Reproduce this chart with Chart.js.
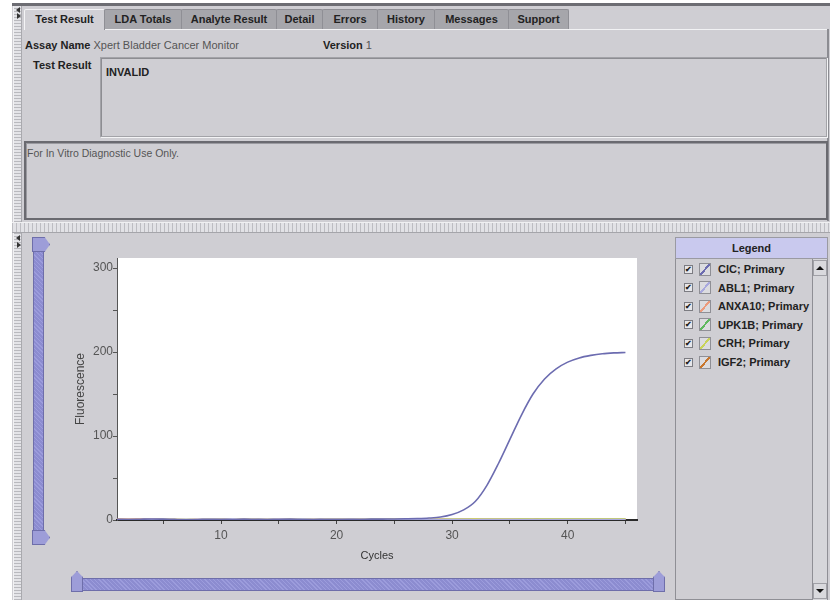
<!DOCTYPE html>
<html>
<head>
<meta charset="utf-8">
<title>Xpert Bladder Cancer Monitor - Test Result</title>
<script src="https://cdn.jsdelivr.net/npm/chart.js@4.4.1/dist/chart.umd.min.js"></script>
<style>
  html, body { margin: 0; padding: 0; width: 832px; height: 600px; overflow: hidden; background: #fff;
    font-family: Arial, "Liberation Sans", sans-serif; }
  .abs { position: absolute; box-sizing: border-box; }
  .win { left: 12px; top: 3px; width: 818px; height: 597px; background: #cfced3; }
  .topline { left: 12px; top: 3px; width: 818px; height: 3px; background: #6d6d73; }
  .vsplit { width: 9px; background: repeating-linear-gradient(0deg, #b9b9be 0 1px, #e4e4e8 1px 3px);
    border-left: 1px solid #f2f2f4; border-right: 1px solid #a9a9ae; }
  .hsplit { left: 12px; top: 222px; width: 818px; height: 11px;
    background: repeating-linear-gradient(90deg, #bdbdc2 0 1px, #e2e2e6 1px 4px);
    border-top: 1px solid #f0f0f2; border-bottom: 1px solid #a5a5aa; }
  .arr { width: 0; height: 0; border-top: 3px solid transparent; border-bottom: 3px solid transparent; }
  .arr.l { border-right: 4px solid #333; }
  .arr.r { border-left: 4px solid #333; }

  .tab { top: 9px; height: 20px; background: #a6a6ab; border: 1px solid #8f8f95; border-bottom: none;
    border-radius: 2px 2px 0 0; font: bold 11px Arial, sans-serif; color: #222; text-align: center; line-height: 19px; }
  .tab.sel { background: #d1d0d5; height: 21px; border-color: #f4f4f6 #8f8f95 transparent #f4f4f6; }
  .tabline { left: 104px; top: 29px; width: 724px; height: 1px; background: #f2f2f4; }
  .pane-r { left: 827px; top: 29px; width: 2px; height: 192px; background: #8c8c92; }

  .lbl { font-size: 11px; color: #222; white-space: nowrap; line-height: 13px; }
  .b { font-weight: bold; }
  .g { color: #555; }
  .box1 { left: 100px; top: 57px; width: 727px; height: 80px; border: 1px solid #a3a3a8;
    box-shadow: inset 1px 1px 0 #8d8d92, 1px 1px 0 #f4f4f6; }
  .box2 { left: 24px; top: 141px; width: 804px; height: 79px; border: 2px solid #6a6a70;
    box-shadow: inset 1px 1px 0 #9a9aa0; }

  .slider { background: repeating-linear-gradient(45deg, #9c9cdc 0 1px, #8c8cd0 1px 3px); border: 1px solid #6e6eaa; }
  .knob { background: #9d9dd8; border: 1px solid #6e6eaa; }

  .chartbox { left: 60px; top: 240px; width: 600px; height: 330px; }

  .lg-head { left: 675px; top: 237px; width: 153px; height: 22px; background: #c9c9ee;
    border: 1px solid #9a9aa2; font: bold 11px Arial, sans-serif; color: #222; text-align: center; line-height: 20px; }
  .lg-list { left: 675px; top: 258px; width: 153px; height: 342px; border: 1px solid #8f8f95; background: #cfced3; }
  .lg-scroll { left: 812px; top: 259px; width: 15px; height: 341px; background: #d6d6da; border-left: 1px solid #8f8f95; }
  .sbtn { left: 813px; width: 14px; height: 16px; background: #d9d9dd; border: 1px solid #a0a0a6; }
  .tri-up { width: 0; height: 0; border-left: 4px solid transparent; border-right: 4px solid transparent; border-bottom: 4px solid #111; }
  .tri-dn { width: 0; height: 0; border-left: 4px solid transparent; border-right: 4px solid transparent; border-top: 4px solid #111; }
  .lg-item { left: 684px; height: 14px; display: flex; align-items: center; font: bold 11px Arial, sans-serif; color: #222; white-space: nowrap; }
  .cb { width: 9px; height: 9px; border: 1px solid #7c7c82; background: #e6e6ea; font-size: 8px; line-height: 8px;
    text-align: center; color: #222; margin-right: 6px; box-sizing: border-box; }
  .sw { width: 12px; height: 13px; border: 1px solid #8f8f95; background: #dcdce0; margin-right: 7px; box-sizing: border-box; }
</style>
</head>
<body>

<!-- window frame -->
<div class="abs win"></div>
<div class="abs topline"></div>
<div class="abs vsplit" style="left:13px; top:6px; height:216px;"></div>
<div class="abs vsplit" style="left:13px; top:233px; height:367px;"></div>
<div class="abs hsplit"></div>
<div class="abs arr l" style="left:16px; top:7px;"></div>
<div class="abs arr r" style="left:17px; top:13px;"></div>
<div class="abs arr l" style="left:16px; top:235px;"></div>
<div class="abs arr r" style="left:17px; top:242px;"></div>

<!-- tabs -->
<div class="abs tabline"></div>
<div class="abs pane-r"></div>
<div id="tabs"></div>

<!-- result header -->
<div class="abs lbl" style="left:25px; top:39px;"><span class="b">Assay Name</span> <span class="g">Xpert Bladder Cancer Monitor</span></div>
<div class="abs lbl" style="left:323px; top:39px;"><span class="b">Version</span> <span class="g">1</span></div>
<div class="abs lbl b" style="left:33px; top:59px;">Test Result</div>
<div class="abs box1"></div>
<div class="abs lbl b" style="left:106px; top:66px;">INVALID</div>
<div class="abs box2"></div>
<div class="abs lbl g" style="left:27px; top:147px; font-size:10.5px;">For In Vitro Diagnostic Use Only.</div>

<!-- zoom sliders -->
<div class="abs slider" style="left:33px; top:250px; width:11px; height:282px;"></div>
<div class="abs knob" style="left:32px; top:237px; width:18px; height:15px; clip-path:polygon(0 0,70% 0,100% 50%,70% 100%,0 100%);"></div>
<div class="abs knob" style="left:32px; top:530px; width:18px; height:15px; clip-path:polygon(0 0,70% 0,100% 50%,70% 100%,0 100%);"></div>
<div class="abs slider" style="left:78px; top:578px; width:578px; height:13px;"></div>
<div class="abs knob" style="left:71px; top:571px; width:12px; height:21px; clip-path:polygon(50% 0,100% 30%,100% 100%,0 100%,0 30%);"></div>
<div class="abs knob" style="left:653px; top:571px; width:12px; height:21px; clip-path:polygon(50% 0,100% 30%,100% 100%,0 100%,0 30%);"></div>

<!-- chart -->
<div class="abs chartbox"><canvas id="ampChart"></canvas></div>

<!-- legend panel -->
<div class="abs lg-list"></div>
<div class="abs lg-head">Legend</div>
<div class="abs lg-scroll"></div>
<div class="abs sbtn" style="top:260px;"><div class="tri-up" style="margin:5px 0 0 2px;"></div></div>
<div class="abs sbtn" style="top:583px;"><div class="tri-dn" style="margin:5px 0 0 2px;"></div></div>
<div id="legendItems"></div>

<script>
// ────────────────────────────────────────────────
// Data
// ────────────────────────────────────────────────
const CYCLES = [1, 2, 3, 4, 5, 6, 7, 8, 9, 10, 11, 12, 13, 14, 15, 16, 17, 18, 19, 20,
  21, 22, 23, 24, 25, 26, 27, 28, 29, 30, 31, 32, 33, 34, 35, 36, 37, 38, 39, 40,
  41, 42, 43, 44, 45];

const CIC = [0.8, 0.6, 0.9, 1.2, 1.0, 0.7, 0.5, 0.6, 0.8, 0.7, 0.9, 1.1, 0.8, 0.6, 0.9,
  1.0, 0.7, 0.6, 0.8, 0.9, 0.7, 0.8, 1.0, 1.1, 1.2, 1.4, 1.7, 2.3, 3.5, 6.5,
  12, 22, 41, 67, 96, 125, 150, 168, 180, 188, 193, 196, 198, 199, 199.5];
const ABL1 = [0.4, 0.5, 0.3, 0.6, 0.5, 0.4, 0.3, 0.5, 0.6, 0.4, 0.5, 0.3, 0.4, 0.6, 0.5,
  0.4, 0.5, 0.6, 0.4, 0.3, 0.5, 0.4, 0.6, 0.5, 0.4, 0.5, 0.6, 0.4, 0.5, 0.6,
  0.5, 0.4, 0.6, 0.5, 0.7, 0.6, 0.5, 0.6, 0.7, 0.6, 0.5, 0.7, 0.6, 0.7, 0.6];
const ANXA10 = [1.0, 0.9, 0.8, 0.6, 0.4, 0.3, 0.2, 0.3, 0.2, 0.1, 0.2, 0.3, 0.2, 0.1, 0.2,
  0.3, 0.2, 0.1, 0.2, 0.3, 0.2, 0.3, 0.2, 0.1, 0.2, 0.3, 0.2, 0.3, 0.2, 0.3,
  0.2, 0.3, 0.4, 0.3, 0.2, 0.3, 0.4, 0.3, 0.2, 0.3, 0.4, 0.3, 0.4, 0.3, 0.4];
const UPK1B = [0.2, 0.3, 0.2, 0.1, 0.2, 0.3, 0.2, 0.1, 0.2, 0.2, 0.3, 0.2, 0.1, 0.2, 0.3,
  0.2, 0.1, 0.2, 0.3, 0.2, 0.2, 0.1, 0.2, 0.3, 0.2, 0.2, 0.3, 0.2, 0.1, 0.2,
  0.3, 0.2, 0.3, 0.2, 0.3, 0.4, 0.3, 0.2, 0.3, 0.4, 0.3, 0.4, 0.3, 0.4, 0.3];
const CRH = [0.5, 0.6, 0.5, 0.4, 0.5, 0.6, 0.5, 0.4, 0.6, 0.5, 0.4, 0.5, 0.6, 0.5, 0.4,
  0.5, 0.6, 0.5, 0.6, 0.7, 0.6, 0.7, 0.8, 0.7, 0.8, 0.9, 0.8, 0.9, 1.0, 1.1,
  1.2, 1.1, 1.3, 1.2, 1.3, 1.4, 1.3, 1.4, 1.5, 1.4, 1.5, 1.4, 1.5, 1.6, 1.5];
const IGF2 = [0.7, 0.6, 0.5, 0.6, 0.7, 0.5, 0.4, 0.5, 0.6, 0.5, 0.4, 0.5, 0.6, 0.5, 0.6,
  0.5, 0.4, 0.5, 0.6, 0.5, 0.6, 0.5, 0.6, 0.7, 0.6, 0.7, 0.6, 0.7, 0.8, 0.7,
  0.8, 0.9, 0.8, 0.9, 1.0, 0.9, 1.0, 1.1, 1.0, 1.1, 1.0, 1.1, 1.2, 1.1, 1.2];

const SERIES_NAMES = ['CIC; Primary', 'ABL1; Primary', 'ANXA10; Primary', 'UPK1B; Primary', 'CRH; Primary', 'IGF2; Primary'];
const SERIES_VALUES = [CIC, ABL1, ANXA10, UPK1B, CRH, IGF2];
const SERIES_COLORS = ['#6c6cb0', '#a9a9de', '#ec9a7c', '#5fb85f', '#c9d35a', '#c8772f'];

const X_TICKS = [5, 10, 15, 20, 25, 30, 35, 40, 45];
const X_LABELED = [10, 20, 30, 40];
const Y_TICKS = [0, 50, 100, 150, 200, 250, 300];
const Y_LABELED = [0, 100, 200, 300];

const TAB_NAMES = ['Test Result', 'LDA Totals', 'Analyte Result', 'Detail', 'Errors', 'History', 'Messages', 'Support'];
const TAB_EDGES = [24, 104, 181, 276, 322, 377, 434, 508, 568];

// ────────────────────────────────────────────────
// Tabs
// ────────────────────────────────────────────────
function buildTabs() {
  const el = document.getElementById('tabs');
  TAB_NAMES.forEach((name, i) => {
    const t = document.createElement('div');
    t.className = 'abs tab' + (i === 0 ? ' sel' : '');
    t.style.left = TAB_EDGES[i] + 'px';
    t.style.width = (TAB_EDGES[i + 1] - TAB_EDGES[i] + 1) + 'px';
    t.textContent = name;
    el.appendChild(t);
  });
}

// ────────────────────────────────────────────────
// Legend list
// ────────────────────────────────────────────────
function buildLegend() {
  const el = document.getElementById('legendItems');
  SERIES_NAMES.forEach((name, i) => {
    const item = document.createElement('div');
    item.className = 'abs lg-item';
    item.style.top = (262 + i * 18.6) + 'px';
    const c = SERIES_COLORS[i];
    // swatch: a small "/" stroke in the series colour
    item.innerHTML = `<div class="cb">&#10004;</div>` +
      `<div class="sw" style="background:linear-gradient(to bottom right, #dcdce0 43%, ${c} 43%, ${c} 57%, #dcdce0 57%)"></div>${name}`;
    el.appendChild(item);
  });
}

// ────────────────────────────────────────────────
// Amplification chart
// ────────────────────────────────────────────────
const plotBackground = {
  id: 'plotBackground',
  beforeDraw(chart) {
    const { ctx, chartArea: a } = chart;
    ctx.save();
    ctx.fillStyle = '#ffffff';
    ctx.fillRect(a.left, a.top, a.right - a.left, a.bottom - a.top);
    ctx.restore();
  }
};

function buildChart() {
  const datasets = SERIES_NAMES.map((name, i) => ({
    label: name,
    data: CYCLES.map((c, k) => ({ x: c, y: SERIES_VALUES[i][k] })),
    borderColor: SERIES_COLORS[i],
    backgroundColor: SERIES_COLORS[i],
    borderWidth: i === 0 ? 1.6 : 1.5,
    pointRadius: 0,
    cubicInterpolationMode: 'monotone',
    fill: false,
  }));

  const tickFont = { family: 'Arial, "Liberation Sans", sans-serif', size: 12 };

  new Chart(document.getElementById('ampChart'), {
    type: 'line',
    data: { datasets },
    options: {
      responsive: true,
      maintainAspectRatio: false,
      animation: false,
      layout: { padding: { top: 18, right: 23, bottom: 0, left: 0 } },
      plugins: { legend: { display: false }, tooltip: { enabled: false } },
      scales: {
        x: {
          type: 'linear',
          min: 1,
          max: 46,
          afterBuildTicks: s => { s.ticks = X_TICKS.map(v => ({ value: v })); },
          afterFit: s => { s.height = 50; },
          grid: { drawOnChartArea: false, drawTicks: true, tickLength: 4, color: '#444' },
          border: { color: '#2a2a2a', width: 2 },
          ticks: {
            padding: 4,
            color: '#555',
            font: tickFont,
            maxRotation: 0,
            autoSkip: false,
            callback: v => X_LABELED.includes(v) ? String(v) : '',
          },
          title: {
            display: true, text: 'Cycles', color: '#333',
            font: { family: 'Arial, sans-serif', size: 11 },
            padding: { top: 0, bottom: 7 },
          },
        },
        y: {
          min: 0,
          max: 312,
          afterBuildTicks: s => { s.ticks = Y_TICKS.map(v => ({ value: v })); },
          afterFit: s => { s.width = 57; },
          grid: { drawOnChartArea: false, drawTicks: true, tickLength: 4, color: '#555' },
          border: { color: '#555', width: 1 },
          ticks: {
            padding: 0,
            color: '#555',
            font: tickFont,
            autoSkip: false,
            callback: v => Y_LABELED.includes(v) ? String(v) : '',
          },
          title: {
            display: true, text: 'Fluorescence', color: '#444',
            font: { family: 'Arial, sans-serif', size: 12 },
            padding: { top: 13, bottom: 0 },
          },
        },
      },
    },
    plugins: [plotBackground],
  });
}

buildTabs();
buildLegend();
buildChart();
</script>
</body>
</html>
